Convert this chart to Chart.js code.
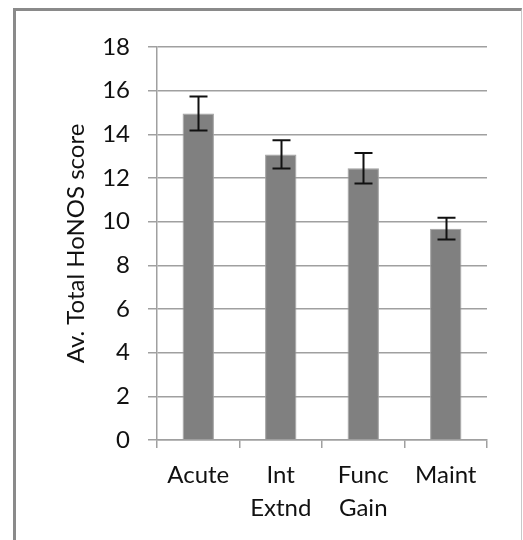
<!DOCTYPE html>
<html>
<head>
<meta charset="utf-8">
<script src="https://cdn.jsdelivr.net/npm/chart.js@4.4.0/dist/chart.umd.min.js"></script>
<style>
  html, body { margin: 0; padding: 0; background: #fff; }
  #wrap { position: relative; width: 523px; height: 540px; overflow: hidden; }
  #frame {
    position: absolute; left: 13px; top: 8px; width: 505px; height: 560px;
    border-left: 3px solid #8a8a8a; border-top: 3px solid #8a8a8a; border-right: 1px solid #c8c8c8;
  }
  #chart { position: absolute; left: 0; top: 0; }
</style>
</head>
<body>
<div id="wrap">
  <div id="frame"></div>
  <canvas id="chart" width="523" height="540"></canvas>
</div>
<script>
// data
const categories = [['Acute'], ['Int', 'Extnd'], ['Func', 'Gain'], ['Maint']];
const meanScores = [14.95, 13.08, 12.45, 9.68];
const errorSizes = [0.78, 0.65, 0.7, 0.5];
const yTicks = [0, 2, 4, 6, 8, 10, 12, 14, 16, 18];

const FONT = 'Lato';
const textColor = '#111';
const gridColor = '#a0a0a0';

// error bars with caps
const errorBars = {
  id: 'errorBars',
  afterDatasetsDraw(chart) {
    const ctx = chart.ctx;
    const meta = chart.getDatasetMeta(0);
    const y = chart.scales.y;
    ctx.save();
    ctx.strokeStyle = '#111';
    ctx.lineWidth = 2;
    meta.data.forEach((bar, i) => {
      const x = Math.round(bar.x) + 0.5;
      const top = y.getPixelForValue(meanScores[i] + errorSizes[i]);
      const bot = y.getPixelForValue(meanScores[i] - errorSizes[i]);
      ctx.beginPath();
      ctx.moveTo(x, top); ctx.lineTo(x, bot);
      ctx.moveTo(x - 9, top); ctx.lineTo(x + 9, top);
      ctx.moveTo(x - 9, bot); ctx.lineTo(x + 9, bot);
      ctx.stroke();
    });
    ctx.restore();
  }
};

new Chart(document.getElementById('chart'), {
  type: 'bar',
  data: {
    labels: categories,
    datasets: [{
      data: meanScores,
      backgroundColor: '#808080',
      borderColor: '#a0a0a0',
      borderWidth: 1,
      categoryPercentage: 1,
      barPercentage: 0.38
    }]
  },
  options: {
    responsive: false,
    animation: false,
    devicePixelRatio: 1,
    layout: { padding: { top: 47, right: 36, left: 0, bottom: 0 } },
    plugins: { legend: { display: false }, tooltip: { enabled: false } },
    scales: {
      x: {
        grid: { drawOnChartArea: false, drawTicks: true, tickLength: 8, color: gridColor, lineWidth: 1.5, offset: true },
        border: { color: gridColor, width: 1.5 },
        ticks: { color: textColor, font: { family: FONT, size: 24, lineHeight: 1.4 }, padding: 10, maxRotation: 0 },
        afterFit(scale) { scale.height = 100; }
      },
      y: {
        min: 0, max: 18,
        afterBuildTicks(scale) { scale.ticks = yTicks.map(v => ({ value: v })); },
        grid: { color: gridColor, lineWidth: 1.5, tickLength: 9 },
        border: { color: gridColor, width: 1.5 },
        ticks: { color: textColor, font: { family: FONT, size: 24 }, padding: 18 },
        title: {
          display: true, text: 'Av. Total HoNOS score', color: textColor,
          font: { family: FONT, size: 24, lineHeight: 1 }, padding: { top: 64, bottom: 0 }
        },
        afterFit(scale) { scale.width = 157; }
      }
    }
  },
  plugins: [errorBars]
});
</script>
</body>
</html>
